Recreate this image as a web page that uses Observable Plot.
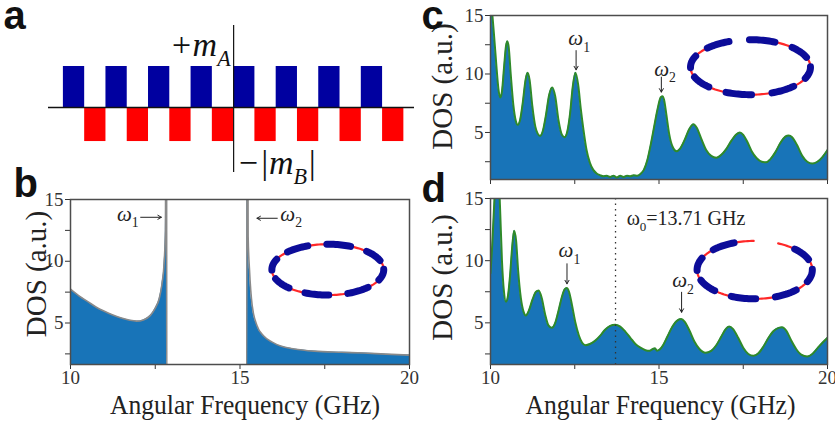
<!DOCTYPE html>
<html><head><meta charset="utf-8">
<script src="https://cdn.jsdelivr.net/npm/d3@7"></script>
<script src="https://cdn.jsdelivr.net/npm/@observablehq/plot@0.6"></script>
<style>
body{margin:0;background:#fff}
#fig{position:relative;width:835px;height:427px;overflow:hidden;background:#fff}
#fig svg{position:absolute}
</style>
</head><body><div id="fig"></div>
<script>
// ---------- Panel a : staggered magnetisation ----------
const aBlueStart = [0, 2, 4, 6, 8, 10, 12, 14];
const aRedStart  = [1, 3, 5, 7, 9, 11, 13, 15];
const mA = 1.0;
const mB = -0.83;

// ---------- Panel b : DOS of perfect ring ----------
const bFreq = [10.0,10.25,10.5,10.75,11.0,11.25,11.5,11.75,11.95,12.15,12.35,12.5,12.62,12.7,12.76,12.8,12.83,12.84,15.20,15.21,15.24,15.28,15.36,15.5,15.7,15.95,16.2,16.6,17.2,18.0,18.65,19.3,20.0];
const bDos  = [7.75,7.2,6.75,6.3,5.95,5.65,5.4,5.22,5.15,5.25,5.6,6.2,7.0,8.2,9.8,12.5,40,0,0,40,12,9.3,6.4,4.8,3.95,3.45,3.13,2.9,2.72,2.63,2.57,2.48,2.4];

// ---------- Panel c : DOS, ring with one red segment removed ----------
const cFreq = [10.00,10.05,10.10,10.18,10.24,10.29,10.34,10.40,10.46,10.50,
  10.54,10.60,10.68,10.75,10.81,10.88,10.96,11.04,11.10,11.16,
  11.24,11.33,11.40,11.47,11.55,11.64,11.74,11.83,11.92,12.02,
  12.12,12.20,12.28,12.36,12.44,12.52,12.60,12.68,12.76,12.85,
  12.95,13.05,13.15,13.25,13.35,13.45,13.55,13.65,13.75,13.85,
  13.95,14.05,14.15,14.25,14.35,14.45,14.55,14.65,14.75,14.85,
  14.95,15.05,15.10,15.15,15.22,15.30,15.40,15.52,15.62,15.75,
  15.90,16.02,16.12,16.25,16.40,16.55,16.70,16.85,17.00,17.15,
  17.30,17.40,17.50,17.62,17.75,17.90,18.05,18.18,18.30,18.45,
  18.60,18.75,18.85,18.95,19.10,19.25,19.40,19.55,19.70,19.85,20.00];
const cDos = [16.5,15.2,13.5,10.5,8.6,8.0,8.5,10.5,12.4,12.8,
  12.3,10.0,7.3,6.0,5.65,6.1,7.6,9.5,10.1,9.5,
  7.3,5.5,4.9,4.7,5.1,6.4,8.2,8.85,8.1,6.0,
  4.8,4.6,5.1,6.6,8.9,10.1,9.1,7.0,5.2,3.5,
  2.4,1.8,1.5,1.35,1.25,1.3,1.2,1.3,1.15,1.3,
  1.2,1.3,1.25,1.35,1.3,1.45,1.8,2.6,3.9,5.4,
  6.9,8.0,8.1,7.8,6.5,4.9,3.8,3.4,3.6,4.3,
  5.3,5.7,5.4,4.5,3.5,3.0,2.85,3.1,3.6,4.3,
  4.85,5.0,4.8,4.2,3.4,2.8,2.5,2.45,2.7,3.3,
  4.1,4.65,4.75,4.6,3.9,3.0,2.5,2.35,2.5,2.9,3.5];

// ---------- Panel d : DOS, ring with one blue segment removed ----------
const dFreq = [10.00,10.05,10.10,10.15,10.22,10.28,10.34,10.40,10.46,10.52,
  10.58,10.64,10.70,10.76,10.82,10.90,10.98,11.05,11.14,11.25,
  11.35,11.43,11.52,11.62,11.72,11.82,11.92,12.02,12.12,12.20,
  12.26,12.33,12.42,12.52,12.62,12.72,12.82,12.95,13.10,13.25,
  13.40,13.55,13.70,13.85,14.00,14.15,14.30,14.45,14.60,14.72,
  14.82,14.88,14.94,15.02,15.12,15.25,15.40,15.55,15.66,15.76,
  15.90,16.05,16.20,16.38,16.55,16.70,16.85,16.98,17.08,17.20,
  17.35,17.50,17.65,17.80,17.95,18.10,18.25,18.40,18.55,18.65,
  18.78,18.92,19.07,19.22,19.40,19.55,19.70,19.85,20.00];
const dDos = [9.0,11.2,14.0,16.5,18,14.5,10.0,7.5,6.7,7.2,
  8.8,11.0,12.4,11.6,9.2,7.0,5.9,5.6,6.0,6.9,
  7.5,7.6,7.0,5.7,4.8,4.6,5.0,6.0,7.1,7.7,
  7.8,7.5,6.4,5.0,4.0,3.4,3.2,3.3,3.55,3.95,
  4.45,4.75,4.85,4.7,4.3,3.8,3.3,3.0,2.8,2.75,
  2.9,2.95,2.75,2.85,3.2,3.9,4.7,5.2,5.3,5.1,
  4.4,3.5,2.9,2.6,2.75,3.2,3.9,4.5,4.7,4.5,
  3.8,3.0,2.5,2.35,2.55,3.1,3.8,4.35,4.6,4.65,
  4.35,3.6,2.9,2.45,2.3,2.5,2.95,3.4,3.8];
const omega0 = 13.71;

// ---------- ring inset segments (angles in degrees) ----------
const ringStart = [1,21,46,66,91,111,136,156,181,201,226,246,271,291,316,336];
const ringEnd   = [21,46,66,91,111,136,156,181,201,226,246,271,291,316,336,361];
const ringKind  = ["red","blue","red","blue","red","blue","red","blue","red","blue","red","blue","red","blue","red","blue"];

// tick values
const xTicks = [10, 12.5, 15, 17.5, 20];
const yTicks = [2.5, 5, 7.5, 10, 12.5, 15];

const FILL = "#1874b8";
const GREEN = "#2f8a2a";
const RING_BLUE = "#0c0c99";
const RING_RED = "#ff2828";
const SERIF = "Liberation Serif, Times New Roman, serif";
const SANS = "Liberation Sans, Arial, sans-serif";

const fig = document.getElementById("fig");

function ring(cx, cy, rx, ry, missing) {
  const red = [], blue = [];
  ringStart.forEach((s, i) => {
    if (i === missing) return;
    const arr = ringKind[i] === "red" ? red : blue;
    for (let a = s; ; a += 2) {
      const aa = Math.min(a, ringEnd[i]);
      const r = aa * Math.PI / 180;
      arr.push({x: cx + rx * Math.cos(r), y: cy + ry * Math.sin(r), seg: i});
      if (aa >= ringEnd[i]) break;
    }
  });
  return {red, blue};
}

function subscripts(svg) {
  svg.querySelectorAll("text").forEach(t => {
    const s = t.textContent;
    if (!s.includes("_") || t.children.length) return;
    const fs = parseFloat(getComputedStyle(t).fontSize) || 16;
    const parts = s.split(/_(.)/);
    const greek = s.startsWith("ω");
    t.textContent = "";
    let shift = 0;
    parts.forEach((p, i) => {
      if (!p) return;
      const ts = document.createElementNS("http://www.w3.org/2000/svg", "tspan");
      if (i % 2) {
        ts.setAttribute("font-size", (fs * 0.65).toFixed(1));
        if (greek) ts.setAttribute("font-style", "normal");
        const d = fs * 0.3 - shift;
        if (d) ts.setAttribute("dy", d.toFixed(1));
        shift = fs * 0.3;
      } else if (shift) {
        ts.setAttribute("dy", (-shift).toFixed(1));
        shift = 0;
      }
      ts.textContent = p;
      t.appendChild(ts);
    });
  });
}

function squeeze(svg, content, len) {
  svg.querySelectorAll("text").forEach(t => {
    if (t.textContent === content) {
      t.setAttribute("textLength", len);
      t.setAttribute("lengthAdjust", "spacingAndGlyphs");
    }
  });
}

function place(svg, left, top) {
  svg.style.left = left + "px";
  svg.style.top = top + "px";
  fig.appendChild(svg);
  subscripts(svg);
  squeeze(svg, "Angular Frequency (GHz)", 270);
}

const baseStyle = {fontFamily: SERIF, fontSize: "19px", color: "#333", background: "transparent", overflow: "visible"};

// ---------- panel a ----------
{
  const blue = aBlueStart.map(s => ({x1: s, x2: s + 1, h: mA}));
  const red = aRedStart.map(s => ({x1: s, x2: s + 1, h: mB}));
  const svg = Plot.plot({
    width: 420, height: 180, margin: 0,
    x: {domain: [-0.7, 16.5], range: [48, 414], axis: null},
    y: {domain: [-1.585, 2], range: [172, 25], axis: null},
    style: baseStyle,
    marks: [
      Plot.rect(blue, {x1: "x1", x2: "x2", y1: 0, y2: "h", fill: "#0000a0"}),
      Plot.rect(red, {x1: "x1", x2: "x2", y1: 0, y2: "h", fill: "#ff0000"}),
      Plot.ruleY([0], {x1: -0.7, x2: 16.5, stroke: "#111", strokeWidth: 1.5}),
      Plot.ruleX([8], {y1: -1.585, y2: 2, stroke: "#111", strokeWidth: 1.2}),
      Plot.text(["+m_A"], {x: 8, y: 1.268, dx: -3, textAnchor: "end", lineAnchor: "bottom", fontStyle: "italic", fontSize: 34, fill: "#111"}),
      Plot.text(["\u2212|m_B|"], {x: 8, y: -1.617, dx: 3, textAnchor: "start", lineAnchor: "bottom", fontStyle: "italic", fontSize: 34, fill: "#111"}),
      Plot.text(["a"], {frameAnchor: "top-left", dx: 3, dy: 28, textAnchor: "start", lineAnchor: "bottom", fontFamily: SANS, fontWeight: "bold", fontSize: 40, fill: "#111"})
    ]
  });
  place(svg, 0, 0);
}

// ---------- DOS panels ----------
function dosPanel(o) {
  const data = o.freq.map((f, i) => ({f, d: o.dos[i]}));
  const rp = ring(o.ring[0], o.ring[1], o.ring[2], o.ring[3], o.missing);
  const marks = [
    Plot.areaY(data, {x: "f", y1: 0, y2: "d", fill: FILL, curve: "monotone-x", clip: true}),
    Plot.line(data, {x: "f", y: "d", stroke: o.stroke, strokeWidth: o.strokeWidth, curve: "monotone-x", clip: true}),
    ...o.extra,
    Plot.line(rp.red, {x: "x", y: "y", z: "seg", stroke: RING_RED, strokeWidth: 2.2}),
    Plot.line(rp.blue, {x: "x", y: "y", z: "seg", stroke: RING_BLUE, strokeWidth: 7, strokeLinecap: "round"}),
    Plot.frame({stroke: "#4d4d4d", strokeWidth: 1.5}),
    Plot.text(["DOS (a.u.)"], {frameAnchor: "left", dx: o.ylabDx, dy: o.ylabDy, rotate: -90, textAnchor: "middle", lineAnchor: "middle", fontSize: 29, fill: "#222"}),
    Plot.text([o.letter], {frameAnchor: "top-left", dx: o.letterDx, dy: o.letterDy, textAnchor: "start", lineAnchor: "bottom", fontFamily: SANS, fontWeight: "bold", fontSize: 40, fill: "#111"})
  ];
  if (o.xlabel) marks.push(Plot.text([o.xlabel], {frameAnchor: "bottom", dx: o.xlabDx, dy: 49, lineAnchor: "bottom", fontSize: 27, fill: "#222"}));
  return Plot.plot({
    width: o.width, height: o.height,
    marginLeft: 70, marginRight: o.marginRight, marginTop: o.marginTop, marginBottom: o.marginBottom,
    x: {domain: [10, 20], ticks: xTicks, tickFormat: o.xlabel ? (d => d % 5 === 0 ? String(d) : "") : (() => ""), tickSize: 5, tickPadding: 1, label: null},
    y: {domain: o.yDomain, ticks: yTicks, tickFormat: d => d % 5 === 0 ? String(d) : "", tickSize: 5, tickPadding: 2, label: null},
    style: baseStyle,
    marks
  });
}

function wlabel(t, f, v, anchor, size, style) {
  return Plot.text([t], {x: f, y: v, textAnchor: anchor, lineAnchor: "bottom", fontSize: size, fontStyle: style, fill: "#222"});
}

// b
{
  const arrows = [{x1: 12.07, y1: 13.56, x2: 12.68, y2: 13.56}, {x1: 16.1, y1: 13.48, x2: 15.5, y2: 13.48}];
  const svg = dosPanel({
    freq: bFreq, dos: bDos, yDomain: [1.64, 15],
    width: 420, height: 247, marginRight: 11, marginTop: 19, marginBottom: 63,
    stroke: "#8a8a8a", strokeWidth: 1.6,
    ring: [17.59, 9.32, 1.65, 2.06], missing: -1,
    extra: [
      Plot.arrow(arrows, {x1: "x1", y1: "y1", x2: "x2", y2: "y2", stroke: "#222", strokeWidth: 1, headLength: 6}),
      wlabel("ω_1", 12.01, 13.29, "end", 21, "italic"),
      wlabel("ω_2", 16.19, 13.29, "start", 21, "italic")
    ],
    ylabDx: -34, ylabDy: -8, letter: "b", letterDx: -57, letterDy: -3,
    xlabel: "Angular Frequency (GHz)", xlabDx: 5
  });
  place(svg, 0, 180);
}

// c
{
  const arrows = [{x1: 12.54, y1: 12.0, x2: 12.54, y2: 10.36}, {x1: 15.07, y1: 9.73, x2: 15.07, y2: 8.45}];
  const svg = dosPanel({
    freq: cFreq, dos: cDos, yDomain: [0.98, 15],
    width: 415, height: 190, marginRight: 8, marginTop: 15, marginBottom: 11,
    stroke: GREEN, strokeWidth: 2,
    ring: [17.715, 10.58, 1.78, 2.35], missing: 4,
    extra: [
      Plot.arrow(arrows, {x1: "x1", y1: "y1", x2: "x2", y2: "y2", stroke: "#222", strokeWidth: 1, headLength: 6}),
      wlabel("ω_1", 12.31, 12.44, "start", 21, "italic"),
      wlabel("ω_2", 14.86, 9.87, "start", 21, "italic")
    ],
    ylabDx: -48, ylabDy: -11, letter: "c", letterDx: -69, letterDy: 13,
    xlabel: null
  });
  place(svg, 420, 0);
}

// d
{
  const arrows = [{x1: 12.27, y1: 9.75, x2: 12.27, y2: 8.14}, {x1: 15.67, y1: 7.46, x2: 15.67, y2: 5.85}];
  const svg = dosPanel({
    freq: dFreq, dos: dDos, yDomain: [1.65, 15],
    width: 415, height: 237, marginRight: 8, marginTop: 8, marginBottom: 63,
    stroke: GREEN, strokeWidth: 2,
    ring: [17.84, 9.26, 1.71, 2.33], missing: 3,
    extra: [
      Plot.ruleX([omega0], {stroke: "#333", strokeWidth: 1.3, strokeDasharray: "1.5,4"}),
      Plot.arrow(arrows, {x1: "x1", y1: "y1", x2: "x2", y2: "y2", stroke: "#222", strokeWidth: 1, headLength: 6}),
      wlabel("ω_1", 12.02, 10.28, "start", 21, "italic"),
      wlabel("ω_2", 15.39, 7.86, "start", 21, "italic"),
      wlabel("ω_0=" + omega0.toFixed(2) + " GHz", 14.04, 12.83, "start", 20, "normal")
    ],
    ylabDx: -48, ylabDy: -4, letter: "d", letterDx: -69, letterDy: 3,
    xlabel: "Angular Frequency (GHz)", xlabDx: 1.5
  });
  place(svg, 420, 190);
}
</script></body></html>
